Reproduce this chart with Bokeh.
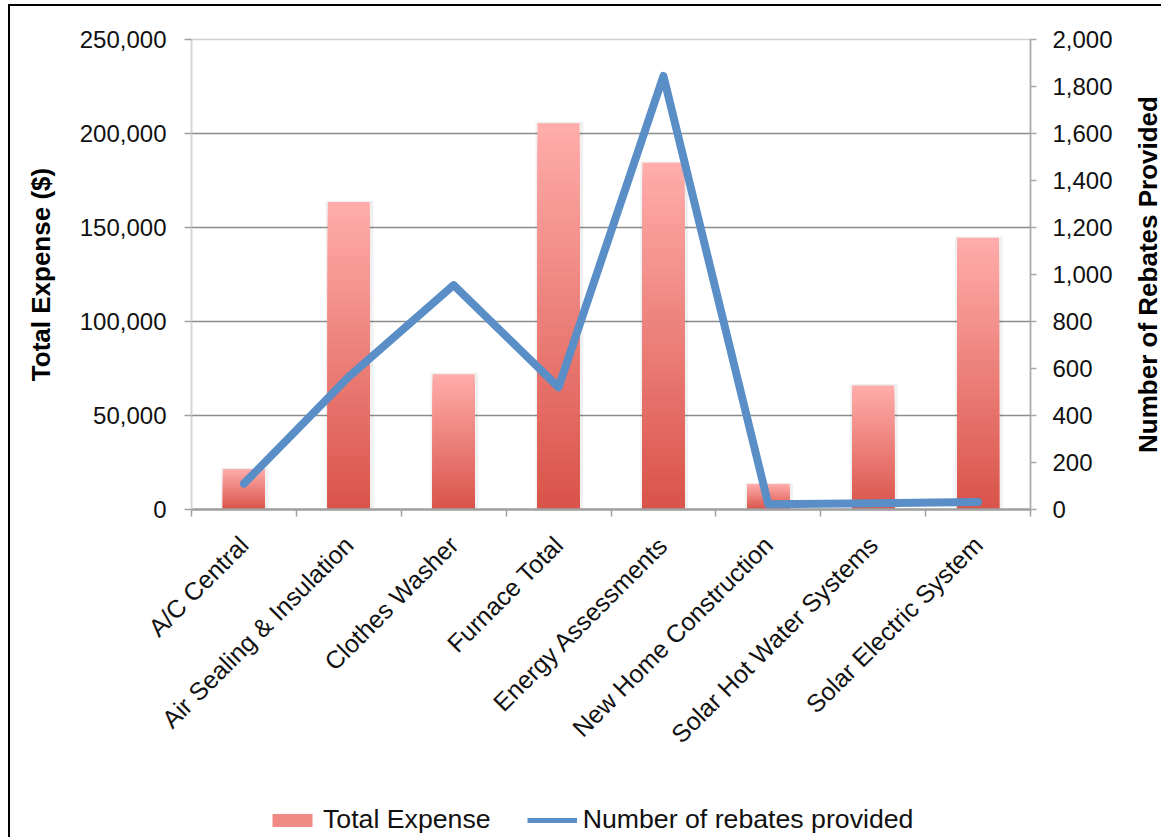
import numpy as np
from bokeh.plotting import figure
from bokeh.layouts import column, row
from bokeh.core.properties import value
from bokeh.models import Range1d, LinearAxis, FixedTicker, NumeralTickFormatter, Legend, LegendItem
from bokeh.embed import file_html
from bokeh.resources import INLINE

categories = ["A/C Central", "Air Sealing & Insulation", "Clothes Washer", "Furnace Total",
              "Energy Assessments", "New Home Construction", "Solar Hot Water Systems",
              "Solar Electric System"]
total_expense = [21500, 163500, 72000, 205500, 184500, 13500, 66000, 144500]
rebates = [110, 565, 955, 520, 1845, 22, 27, 32]
left_ticks = [0, 50000, 100000, 150000, 200000, 250000]
right_ticks = [0, 200, 400, 600, 800, 1000, 1200, 1400, 1600, 1800, 2000]
left_title = "Total Expense ($)"
right_title = "Number of Rebates Provided"
legend_labels = ["Total Expense", "Number of rebates provided"]

FONT = "Liberation Sans"
BAR_MID = "#ef8a84"
LINE_C = "#5a8ec7"
xs = list(range(1, len(categories) + 1))

# content area 1151 x 831 (after 10px left / 6px top offset with the frame border)
CW = 1151
TITLE_W = 30
MAIN_W = CW - TITLE_W
MAIN_H = 790
LEG_H = 831 - MAIN_H

p = figure(width=MAIN_W, height=MAIN_H, output_backend="svg", toolbar_location=None,
           x_range=Range1d(0.5, len(categories) + 0.5), y_range=Range1d(0, 250000),
           min_border_left=181, min_border_right=101, min_border_top=33, min_border_bottom=287,
           background_fill_color="white", border_fill_color="white")
p.extra_y_ranges = {"reb": Range1d(0, 2000)}
p.outline_line_color = "#cfcfcf"
p.outline_line_width = 1.5

# grid
p.xgrid.visible = False
p.ygrid.ticker = FixedTicker(ticks=left_ticks[1:-1])
p.ygrid.grid_line_color = "#8c8c8c"
p.ygrid.grid_line_width = 1.5

# bars with a vertical gradient (stacked overlays, lightest/tallest first)
top_c = np.array([255, 172, 170])
bot_c = np.array([217, 84, 74])
N = 40
bw = 0.2
sl, sr, st = [], [], []
L, R, T, C = [], [], [], []
for x, v in zip(xs, total_expense):
    sl.append(x - bw - 0.02); sr.append(x + bw + 0.035); st.append(v + 700)
    for k in range(N):
        frac = k / (N - 1)
        c = top_c + (bot_c - top_c) * frac
        L.append(x - bw); R.append(x + bw); T.append(v * (N - k) / N)
        C.append("#%02x%02x%02x" % tuple(int(round(q)) for q in c))
p.quad(left=sl, right=sr, bottom=0, top=st, fill_color="#000000", fill_alpha=0.06, line_color=None)
p.quad(left=L, right=R, bottom=0, top=T, fill_color=C, line_color=None)

# line
p.line(xs, rebates, y_range_name="reb", line_width=8, line_color=LINE_C,
       line_join="round", line_cap="round")

# x axis: labels at category centres, ticks between categories
xa = p.xaxis[0]
xa.ticker = FixedTicker(ticks=xs, minor_ticks=[x + 0.5 for x in range(0, len(categories) + 1)])
xa.major_label_overrides = {x: c for x, c in zip(xs, categories)}
xa.major_tick_out = 0
xa.major_tick_in = 0
xa.minor_tick_out = 7
xa.minor_tick_in = 0
xa.minor_tick_line_color = "#a0a0a0"
xa.minor_tick_line_width = 1.5
xa.axis_line_color = "#a0a0a0"
xa.axis_line_width = 2.5
xa.major_label_orientation = np.pi / 4
xa.major_label_standoff = 24
xa.major_label_text_font = FONT
xa.major_label_text_font_size = "25px"
xa.major_label_text_color = "#111111"

# left axis
ya = p.yaxis[0]
ya.ticker = FixedTicker(ticks=left_ticks)
ya.formatter = NumeralTickFormatter(format="0,0")
ya.axis_line_color = "#d4d4d4"
ya.axis_line_width = 1.5
ya.major_tick_out = 7
ya.major_tick_in = 0
ya.major_tick_line_color = "#a0a0a0"
ya.major_tick_line_width = 1.5
ya.minor_tick_out = 0
ya.minor_tick_in = 0
ya.major_label_standoff = 18
ya.major_label_text_font = FONT
ya.major_label_text_font_size = "24px"
ya.major_label_text_color = "#111111"
ya.axis_label = left_title
ya.axis_label_text_font = FONT
ya.axis_label_text_font_size = "26px"
ya.axis_label_text_font_style = "bold"
ya.axis_label_text_color = "#000000"
ya.axis_label_standoff = 21

# right axis
ra = LinearAxis(y_range_name="reb", ticker=FixedTicker(ticks=right_ticks),
                formatter=NumeralTickFormatter(format="0,0"))
ra.axis_line_color = "#a8a8a8"
ra.axis_line_width = 1.5
ra.major_tick_out = 6
ra.major_tick_in = 0
ra.major_tick_line_color = "#a8a8a8"
ra.major_tick_line_width = 1.5
ra.minor_tick_out = 0
ra.minor_tick_in = 0
ra.major_label_standoff = 16
ra.major_label_text_font = FONT
ra.major_label_text_font_size = "24px"
ra.major_label_text_color = "#111111"
p.add_layout(ra, "right")

# right-hand title strip (its frame is aligned with the main frame by the row);
# the title reads bottom to top, centred on the frame
pt = figure(width=TITLE_W, height=MAIN_H, output_backend="svg", toolbar_location=None,
            x_range=Range1d(0, TITLE_W), y_range=Range1d(0, 1),
            x_axis_location=None, y_axis_location=None, min_border=0,
            background_fill_color="white", border_fill_color="white")
pt.outline_line_color = None
pt.grid.visible = False
pt.text(x=[16], y=[0.5], text=[right_title], angle=np.pi / 2,
        text_align="center", text_baseline="middle", text_font=value(FONT),
        text_font_size="26px", text_font_style="bold", text_color="#000000")

# legend strip below
pl = figure(width=CW, height=LEG_H, output_backend="svg", toolbar_location=None,
            x_range=Range1d(0, 1), y_range=Range1d(0, 1),
            x_axis_location=None, y_axis_location=None, min_border=0,
            background_fill_color="white", border_fill_color="white")
pl.outline_line_color = None
pl.grid.visible = False
leg_bar = pl.quad(left=[2], right=[3], bottom=[2], top=[3], fill_color=BAR_MID, line_color=None)
leg_line = pl.line([2, 3], [2, 3], line_width=5, line_color=LINE_C)
legend = Legend(items=[LegendItem(label=legend_labels[0], renderers=[leg_bar]),
                       LegendItem(label=legend_labels[1], renderers=[leg_line])],
                orientation="horizontal", location=(257, 2),
                padding=0, margin=0, spacing=36, label_standoff=6,
                glyph_width=50, glyph_height=16, label_height=30,
                label_text_font=FONT, label_text_font_size="26.7px", label_text_color="#111111",
                border_line_color=None, background_fill_alpha=0)
pl.add_layout(legend, "center")

layout = column(row(p, pt), pl,
                styles={"margin-left": "8px", "margin-top": "4px",
                        "border-left": "2px solid black", "border-top": "2px solid black"})

open("out.html", "w").write(file_html(layout, INLINE))
